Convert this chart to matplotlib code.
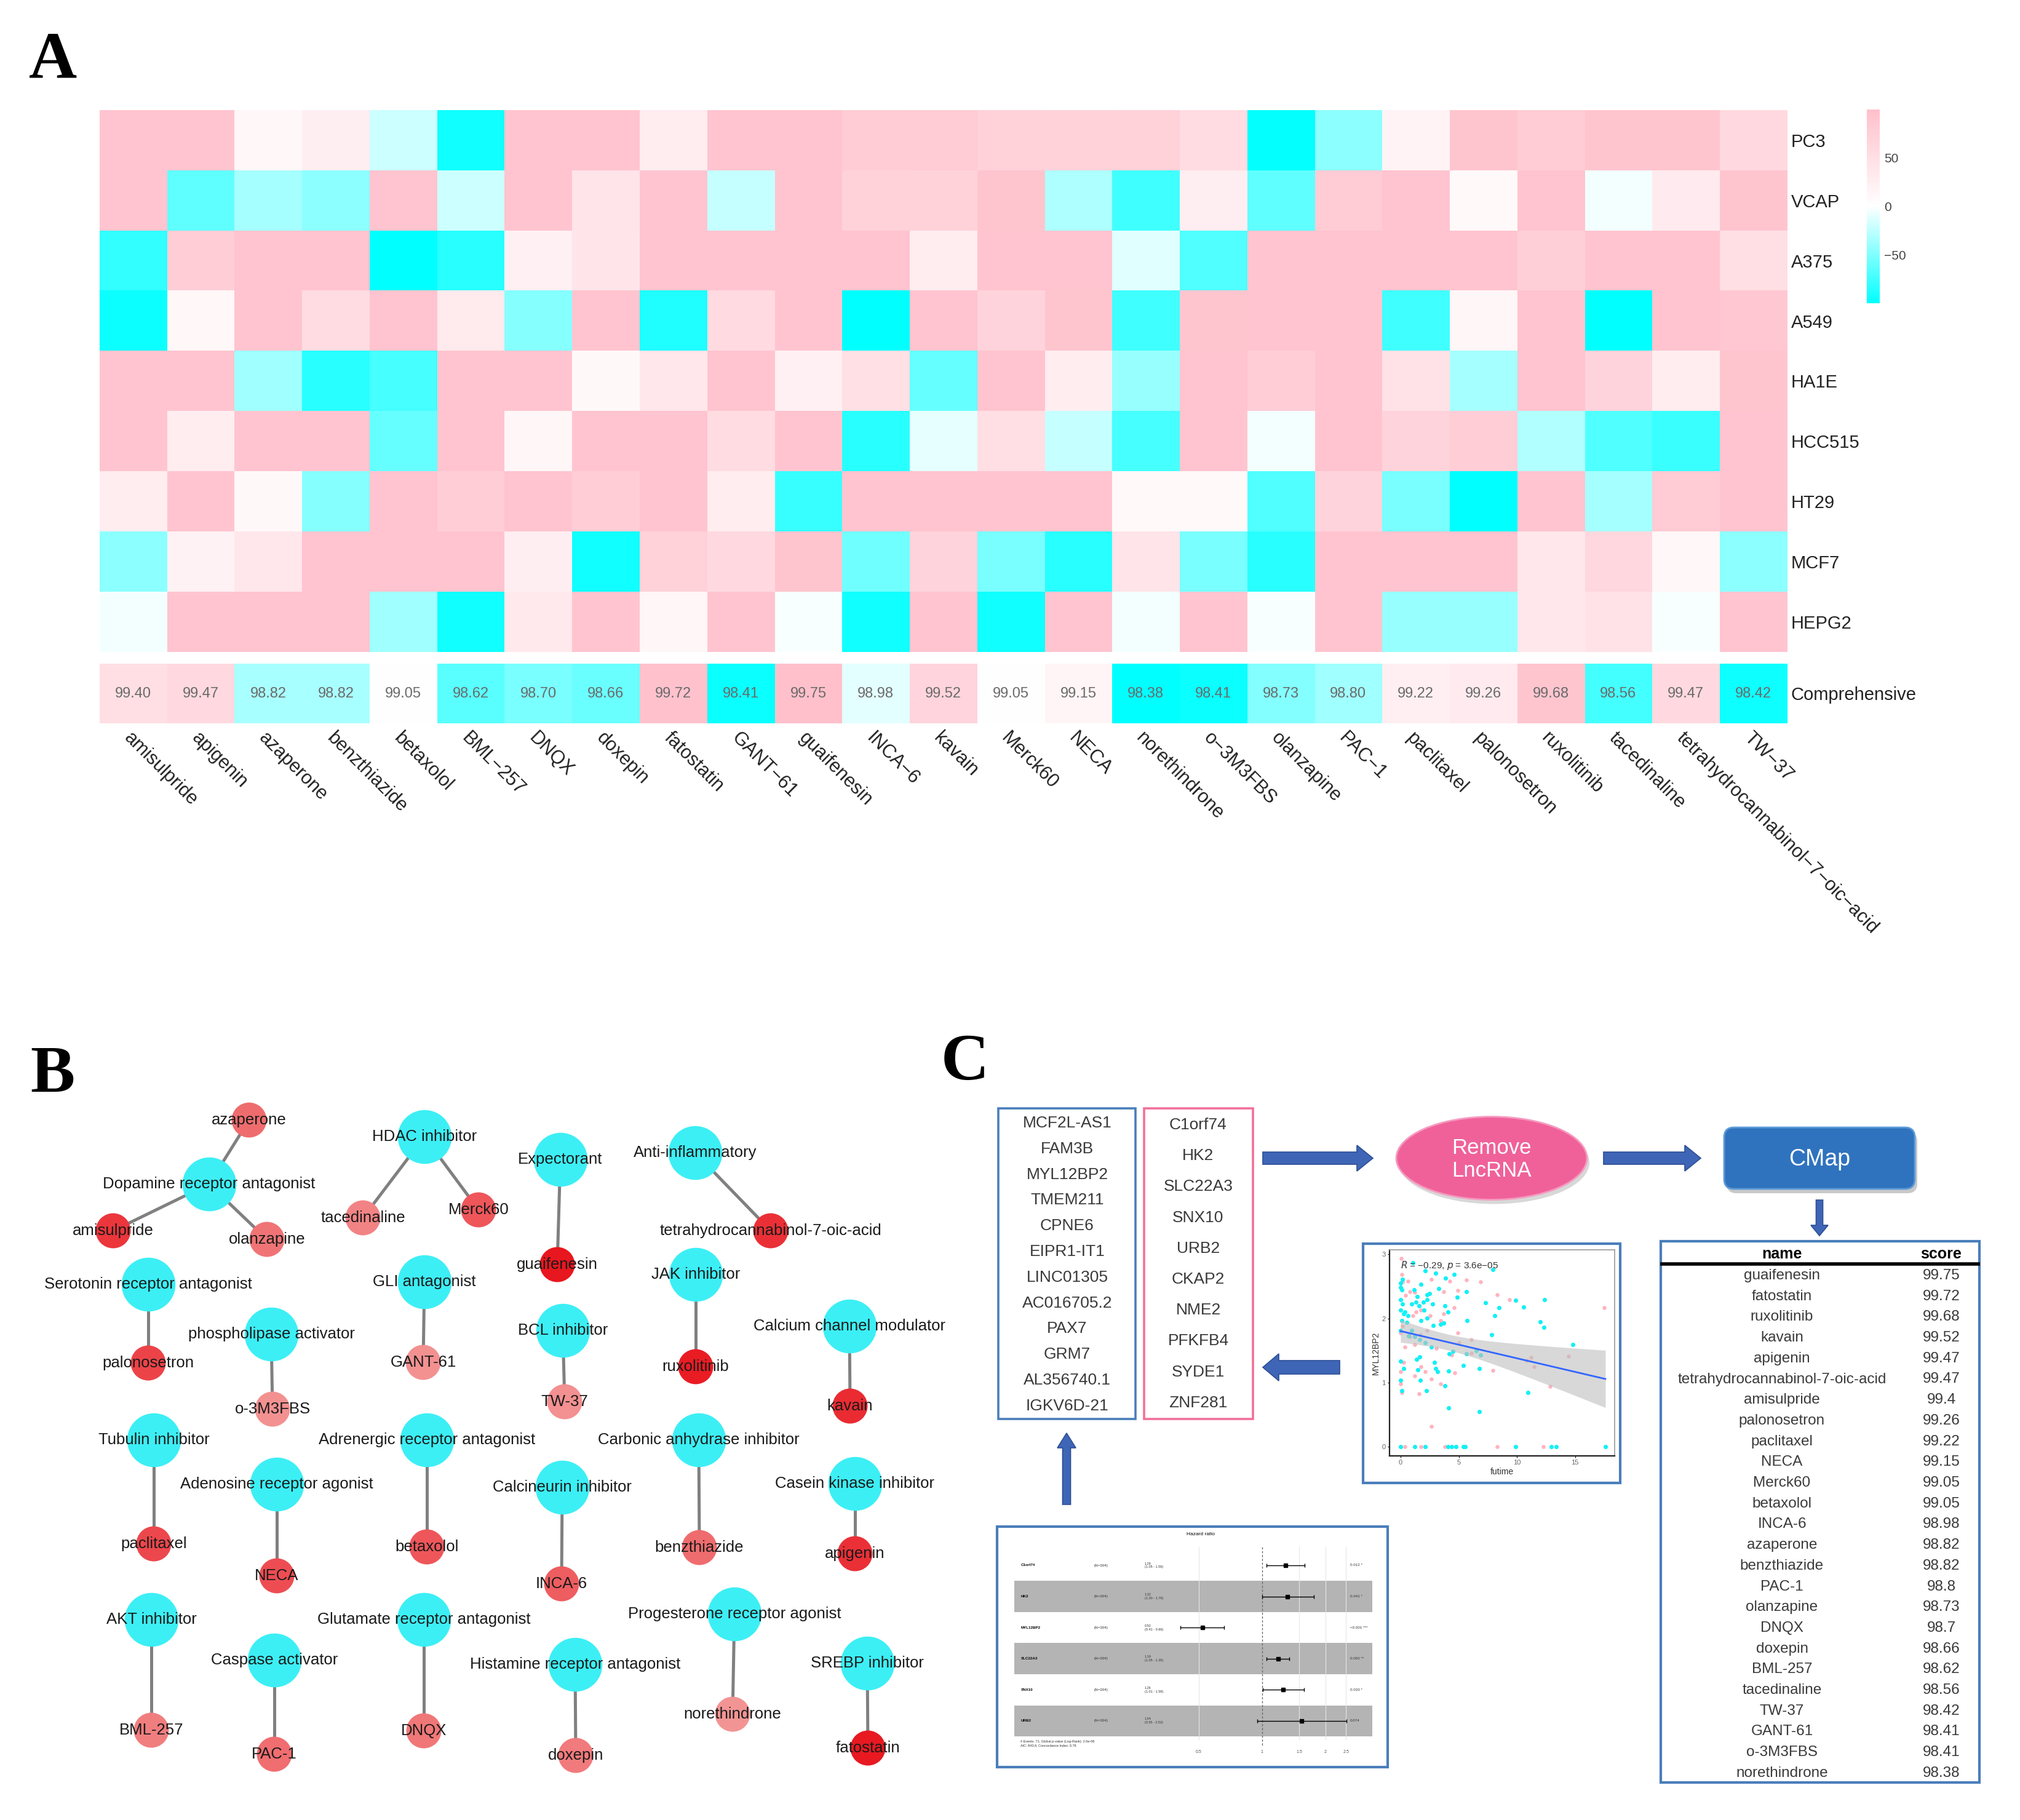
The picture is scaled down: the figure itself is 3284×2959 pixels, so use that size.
import numpy as np
import matplotlib
matplotlib.use('Agg')
import matplotlib.pyplot as plt
from matplotlib.colors import LinearSegmentedColormap, TwoSlopeNorm
from matplotlib.patches import Rectangle, Ellipse, FancyBboxPatch, FancyArrow

plt.rcParams['font.family'] = ['Liberation Sans', 'DejaVu Sans']

# ---------------- DATA ----------------
drugs = ['amisulpride', 'apigenin', 'azaperone', 'benzthiazide', 'betaxolol', 'BML-257', 'DNQX',
         'doxepin', 'fatostatin', 'GANT-61', 'guaifenesin', 'INCA-6', 'kavain', 'Merck60', 'NECA',
         'norethindrone', 'o-3M3FBS', 'olanzapine', 'PAC-1', 'paclitaxel', 'palonosetron',
         'ruxolitinib', 'tacedinaline', 'tetrahydrocannabinol-7-oic-acid', 'TW-37']
cell_lines = ['PC3', 'VCAP', 'A375', 'A549', 'HA1E', 'HCC515', 'HT29', 'MCF7', 'HEPG2']

pc3    = [92, 92, 12, 25, -20, -93, 92, 92, 28, 92, 92, 80, 82, 72, 70, 72, 55, -98, -45, 18, 90, 82, 90, 90, 60]
vcap   = [92, -62, -35, -45, 92, -20, 92, 42, 92, -22, 92, 70, 70, 90, -32, -75, 25, -62, 82, 92, 8, 92, -4, 30, 90]
a375   = [-80, 78, 92, 92, -100, -84, 22, 40, 92, 92, 92, 92, 28, 92, 92, -12, -68, 92, 92, 92, 92, 75, 92, 92, 50]
a549   = [-95, 12, 92, 55, 92, 32, -47, 92, -87, 58, 92, -100, 92, 68, 90, -75, 90, 92, 92, -75, 14, 92, -100, 92, 88]
ha1e   = [92, 92, -37, -84, -72, 92, 92, 10, 38, 92, 22, 48, -60, 92, 28, -40, 92, 78, 92, 45, -35, 92, 68, 28, 90]
hcc515 = [92, 28, 92, 92, -60, 92, 14, 92, 92, 55, 92, -84, -10, 50, -22, -72, 92, -4, 92, 68, 78, -30, -68, -77, 92]
ht29   = [28, 92, 10, -47, 92, 78, 92, 78, 92, 28, -78, 92, 92, 92, 92, 8, 8, -68, 68, -52, -100, 92, -35, 82, 92]
mcf7   = [-45, 20, 38, 92, 92, 92, 25, -93, 72, 60, 90, -56, 68, -52, -84, 42, -52, -84, 92, 92, 92, 38, 62, 12, -45]
hepg2  = [-4, 92, 92, 92, -37, -93, 35, 92, 14, 92, -3, -93, 92, -93, 92, -4, 92, -3, 92, -40, -40, 38, 45, -3, 92]

comprehensive = [99.40, 99.47, 98.82, 98.82, 99.05, 98.62, 98.70, 98.66, 99.72, 98.41, 99.75, 98.98,
                 99.52, 99.05, 99.15, 98.38, 98.41, 98.73, 98.80, 99.22, 99.26, 99.68, 98.56, 99.47, 98.42]

# network: mechanism of action -> drugs
edges = [('Dopamine receptor antagonist', 'azaperone'), ('Dopamine receptor antagonist', 'amisulpride'),
         ('Dopamine receptor antagonist', 'olanzapine'), ('HDAC inhibitor', 'tacedinaline'),
         ('HDAC inhibitor', 'Merck60'), ('Expectorant', 'guaifenesin'),
         ('Anti-inflammatory', 'tetrahydrocannabinol-7-oic-acid'), ('Serotonin receptor antagonist', 'palonosetron'),
         ('phospholipase activator', 'o-3M3FBS'), ('GLI antagonist', 'GANT-61'), ('BCL inhibitor', 'TW-37'),
         ('JAK inhibitor', 'ruxolitinib'), ('Calcium channel modulator', 'kavain'),
         ('Tubulin inhibitor', 'paclitaxel'), ('Adenosine receptor agonist', 'NECA'),
         ('Adrenergic receptor antagonist', 'betaxolol'), ('Calcineurin inhibitor', 'INCA-6'),
         ('Carbonic anhydrase inhibitor', 'benzthiazide'), ('Casein kinase inhibitor', 'apigenin'),
         ('AKT inhibitor', 'BML-257'), ('Caspase activator', 'PAC-1'),
         ('Glutamate receptor antagonist', 'DNQX'), ('Histamine receptor antagonist', 'doxepin'),
         ('Progesterone receptor agonist', 'norethindrone'), ('SREBP inhibitor', 'fatostatin')]

lncrna_genes = ['MCF2L-AS1', 'FAM3B', 'MYL12BP2', 'TMEM211', 'CPNE6', 'EIPR1-IT1', 'LINC01305',
                'AC016705.2', 'PAX7', 'GRM7', 'AL356740.1', 'IGKV6D-21']
mrna_genes = ['C1orf74', 'HK2', 'SLC22A3', 'SNX10', 'URB2', 'CKAP2', 'NME2', 'PFKFB4', 'SYDE1', 'ZNF281']

# scatter (futime vs MYL12BP2), two groups
cyan_pts = [(0, 0), (1.23, 0), (2.12, 0), (4.06, 0), (4.41, 0), (4.76, 0), (5.38, 0), (5.56, 0), (9.88, 0),
            (12.96, 0), (13.4, 0), (17.6, 0), (1.06, 2.87), (2.12, 2.74), (4.59, 2.69), (3.88, 2.63),
            (7.94, 2.76), (5.64, 2.42), (4.85, 2.33), (7.32, 2.25), (9.88, 2.28), (12.35, 2.29), (10.58, 2.18),
            (8.47, 2.17), (8.08, 2.04), (3.79, 2.2), (4.06, 2.1), (2.73, 2.23), (3.26, 2.47), (5.73, 1.97),
            (11.99, 1.95), (12.31, 1.86), (7.85, 1.75), (14.78, 1.59), (6.88, 1.43), (6.53, 1.5), (5.64, 1.45),
            (4.5, 1.49), (4.2, 1.45), (5.38, 1.27), (6.79, 1.22), (4.14, 1.18), (3.79, 0.95), (2.2, 0.88),
            (0.09, 0.88), (0, 1.04), (0.26, 1.22), (0, 1.34), (1.68, 1.04), (1.5, 1.2), (1.38, 1.36),
            (1.62, 1.4), (2.91, 1.32), (3.0, 1.22), (3.17, 1.17), (2.65, 1.56), (2.12, 1.62), (1.62, 1.67),
            (1.23, 1.72), (0.71, 1.73), (0.97, 1.81), (0.53, 1.94), (0, 1.81), (0.26, 2.07), (0, 2.13),
            (0.18, 2.23), (0, 2.29), (0.09, 2.45), (0, 2.55), (0.18, 2.61), (0, 2.49), (1.15, 2.45),
            (1.41, 2.34), (1.76, 2.53), (1.59, 2.2), (2.03, 2.13), (2.29, 2.29), (1.94, 2.26), (2.47, 2.39),
            (1.76, 1.97), (2.29, 2.01), (2.82, 1.89), (3.44, 1.91), (3.7, 1.93), (4.14, 0.61), (6.79, 0.55),
            (10.93, 0.85), (3.0, 2.71), (2.29, 2.37), (1.32, 2.26), (0.97, 2.23), (0.35, 2.1), (0.62, 2.04),
            (0.09, 1.97)]
pink_pts = [(0.35, 0), (1.76, 0), (3.79, 0), (8.29, 0), (12.26, 0), (0.04, 2.94), (0.09, 2.69), (0.18, 2.57),
            (0.62, 2.58), (0.79, 2.42), (0.44, 2.36), (1.23, 2.41), (1.76, 2.13), (1.32, 2.1), (1.06, 2.04),
            (0.18, 1.88), (0, 1.78), (0.35, 1.56), (0.79, 1.72), (1.23, 1.59), (1.68, 1.75), (2.29, 1.81),
            (2.56, 2.04), (2.65, 2.61), (4.23, 2.58), (4.94, 2.44), (5.64, 2.6), (6.88, 2.57), (8.29, 2.37),
            (9.35, 2.29), (4.59, 2.17), (3.7, 2.42), (3.7, 2.07), (3.44, 1.97), (4.94, 1.78), (5.03, 1.62),
            (6.08, 1.67), (6.08, 1.46), (4.41, 1.43), (3.09, 1.54), (0.26, 1.32), (0, 1.17), (0, 0.98),
            (0.09, 0.85), (1.23, 1.11), (1.76, 1.25), (2.12, 1.17), (2.65, 1.06), (3.44, 0.98), (1.59, 0.83),
            (2.65, 0.32), (4.67, 1.15), (7.94, 1.19), (10.85, 1.35), (11.46, 1.25), (14.46, 1.41),
            (12.87, 0.94), (17.5, 2.17), (11.2, 1.39)]

# forest plot (Cox model)
forest_genes = ['C1orf74', 'HK2', 'MYL12BP2', 'SLC22A3', 'SNX10', 'URB2']
forest_hr = [1.29, 1.32, 0.52, 1.19, 1.26, 1.54]
forest_lo = [1.05, 1.00, 0.41, 1.05, 1.01, 0.95]
forest_hi = [1.59, 1.76, 0.66, 1.35, 1.58, 2.52]
forest_p = ['0.012 *', '0.041 *', '<0.001 ***', '0.002 **', '0.033 *', '0.074']
forest_ticks = [0.5, 1, 1.5, 2, 2.5]

# ---------------- FIGURE ----------------
W, H = 3284, 2959
DPI = 100
fig = plt.figure(figsize=(W / DPI, H / DPI), dpi=DPI)
fig.patch.set_facecolor('white')


def axes_px(x0, y0, x1, y1, **kw):
    return fig.add_axes([x0 / W, 1 - y1 / H, (x1 - x0) / W, (y1 - y0) / H], **kw)


# background drawing layer (pixel coordinates)
bg = fig.add_axes([0, 0, 1, 1])
bg.set_xlim(0, W)
bg.set_ylim(H, 0)
bg.axis('off')

serif = ['Liberation Serif', 'DejaVu Serif']
for lab, x, y in [('A', 47, 126), ('B', 49, 1775), ('C', 1530, 1755)]:
    bg.text(x, y, lab, fontsize=78, fontweight='bold', family=serif, ha='left', va='baseline')

# ---------------- PANEL A: heatmap ----------------
cmap = LinearSegmentedColormap.from_list('cyan_pink', ['#00FFFF', '#FFFFFF', '#FFC0CB'])
heat = np.array([pc3, vcap, a375, a549, ha1e, hcc515, ht29, mcf7, hepg2], dtype=float)

ax_h = axes_px(162, 179, 2905, 1060)
im = ax_h.imshow(heat, cmap=cmap, vmin=-100, vmax=100, aspect='auto', interpolation='nearest')
ax_h.set_xticks([])
ax_h.yaxis.tick_right()
ax_h.set_yticks(range(len(cell_lines)))
ax_h.set_yticklabels(cell_lines, fontsize=21, color='#222222')
ax_h.tick_params(length=0, pad=5)
for s in ax_h.spines.values():
    s.set_visible(False)

ax_c = axes_px(162, 1079, 2905, 1176)
norm_c = TwoSlopeNorm(vcenter=99.05, vmin=min(comprehensive), vmax=max(comprehensive))
ax_c.imshow(np.array([comprehensive]), cmap=cmap, norm=norm_c, aspect='auto', interpolation='nearest')
for i, v in enumerate(comprehensive):
    ax_c.text(i, 0, f'{v:.2f}', ha='center', va='center', fontsize=17, color='#6a6a6a')
ax_c.yaxis.tick_right()
ax_c.set_yticks([0])
ax_c.set_yticklabels(['Comprehensive'], fontsize=21, color='#222222')
ax_c.set_xticks(range(len(drugs)))
ax_c.set_xticklabels([d.replace('-', '\u2212') for d in drugs], rotation=-45, ha='left', va='top',
                     rotation_mode='anchor', fontsize=22, color='#222222')
ax_c.tick_params(length=0)
ax_c.tick_params(axis='x', pad=6)
ax_c.tick_params(axis='y', pad=5)
for s in ax_c.spines.values():
    s.set_visible(False)

cax = axes_px(3035, 178, 3056, 493)
cb = fig.colorbar(im, cax=cax, ticks=[-50, 0, 50])
cb.outline.set_visible(False)
cb.ax.set_yticklabels(['\u221250', '0', '50'])
cb.ax.tick_params(length=0, labelsize=15, labelcolor='#444444', pad=5)

# ---------------- PANEL B: network ----------------
node_pos = {
    'Dopamine receptor antagonist': (340, 1925), 'azaperone': (405, 1821), 'amisulpride': (184, 2001),
    'olanzapine': (434, 2015), 'HDAC inhibitor': (690, 1848), 'tacedinaline': (590, 1980),
    'Merck60': (778, 1967), 'Expectorant': (911, 1885), 'guaifenesin': (906, 2056),
    'Anti-inflammatory': (1130, 1874), 'tetrahydrocannabinol-7-oic-acid': (1253, 2001),
    'Serotonin receptor antagonist': (241, 2088), 'palonosetron': (241, 2216),
    'phospholipase activator': (441, 2169), 'o-3M3FBS': (443, 2291),
    'GLI antagonist': (690, 2084), 'GANT-61': (688, 2215), 'BCL inhibitor': (915, 2163), 'TW-37': (918, 2279),
    'JAK inhibitor': (1131, 2072), 'ruxolitinib': (1131, 2222),
    'Calcium channel modulator': (1381, 2156), 'kavain': (1382, 2286),
    'Tubulin inhibitor': (250, 2341), 'paclitaxel': (250, 2510),
    'Adenosine receptor agonist': (450, 2413), 'NECA': (450, 2562),
    'Adrenergic receptor antagonist': (694, 2341), 'betaxolol': (694, 2515),
    'Calcineurin inhibitor': (914, 2418), 'INCA-6': (913, 2575),
    'Carbonic anhydrase inhibitor': (1136, 2341), 'benzthiazide': (1137, 2516),
    'Casein kinase inhibitor': (1390, 2412), 'apigenin': (1390, 2526),
    'AKT inhibitor': (246, 2633), 'BML-257': (246, 2813),
    'Caspase activator': (446, 2699), 'PAC-1': (446, 2852),
    'Glutamate receptor antagonist': (689, 2633), 'DNQX': (689, 2814),
    'Histamine receptor antagonist': (935, 2706), 'doxepin': (936, 2854),
    'Progesterone receptor agonist': (1194, 2624), 'norethindrone': (1191, 2787),
    'SREBP inhibitor': (1410, 2704), 'fatostatin': (1411, 2842)}

score_of = dict(zip(drugs, comprehensive))
lo_s, hi_s = min(comprehensive), max(comprehensive)
light_red = np.array([243, 148, 148]) / 255
dark_red = np.array([232, 22, 30]) / 255


def drug_color(d):
    t = (score_of[d] - lo_s) / (hi_s - lo_s)
    return tuple(light_red * (1 - t) + dark_red * t)


for moa, drug in edges:
    (x1, y1), (x2, y2) = node_pos[moa], node_pos[drug]
    bg.plot([x1, x2], [y1, y2], color='#808080', lw=3.6, zorder=2, solid_capstyle='butt')

moas = list(dict.fromkeys(m for m, _ in edges))
bg.scatter([node_pos[m][0] for m in moas], [node_pos[m][1] for m in moas], s=63 ** 2,
           color='#3CEFF5', linewidths=0, zorder=3)
drug_nodes = [d for _, d in edges]
bg.scatter([node_pos[d][0] for d in drug_nodes], [node_pos[d][1] for d in drug_nodes], s=41 ** 2,
           color=[drug_color(d) for d in drug_nodes], linewidths=0, zorder=3)
for name in moas + drug_nodes:
    x, y = node_pos[name]
    bg.text(x, y, name, ha='center', va='center', fontsize=18.5, color='#1a1a1a', zorder=4)

# ---------------- PANEL C: workflow ----------------
blue_edge = '#4A7EBB'
bg.add_patch(Rectangle((1623, 1802), 223, 505, fill=False, ec=blue_edge, lw=2.6, zorder=2))
bg.add_patch(Rectangle((1860, 1802), 177, 505, fill=False, ec='#F2709A', lw=2.6, zorder=2))
for i, g in enumerate(lncrna_genes):
    bg.text(1735, 1826 + i * 41.8, g, ha='center', va='center', fontsize=19, color='#3a3a3a')
for i, g in enumerate(mrna_genes):
    bg.text(1948, 1829 + i * 50.2, g, ha='center', va='center', fontsize=19, color='#3a3a3a')

arrow_kw = dict(length_includes_head=True, fc='#3F66B6', ec='#2C4E95', lw=1.2, zorder=3)
bg.add_patch(FancyArrow(2053, 1883, 179, 0, width=20, head_width=42, head_length=26, **arrow_kw))
bg.add_patch(FancyArrow(2607, 1883, 158, 0, width=20, head_width=42, head_length=26, **arrow_kw))
bg.add_patch(FancyArrow(2958, 1951, 0, 58, width=11, head_width=28, head_length=17, **arrow_kw))
bg.add_patch(FancyArrow(2178, 2223, -125, 0, width=22, head_width=44, head_length=26, **arrow_kw))
bg.add_patch(FancyArrow(1734, 2446, 0, -116, width=13, head_width=30, head_length=24, **arrow_kw))

bg.add_patch(Ellipse((2429, 1890), 310, 135, fc='#D8D8D8', ec='none', zorder=2))
bg.add_patch(Ellipse((2425, 1883), 310, 135, fc='#F0619A', ec='#F59BC0', lw=2, zorder=3))
bg.text(2425, 1885, 'Remove\nLncRNA', ha='center', va='center', fontsize=25, color='white',
        linespacing=1.15, zorder=4)

bg.add_patch(FancyBboxPatch((2807, 1840), 310, 100, boxstyle='round,pad=0,rounding_size=16',
                            fc='#C9C9C9', ec='none', zorder=2))
bg.add_patch(FancyBboxPatch((2803, 1833), 310, 100, boxstyle='round,pad=0,rounding_size=16',
                            fc='#2F73BE', ec='#5E9BD8', lw=2, zorder=3))
bg.text(2958, 1885, 'CMap', ha='center', va='center', fontsize=27, color='white', zorder=4)

# ranking table derived from comprehensive scores
bg.add_patch(Rectangle((2700, 2018), 518, 880, fill=False, ec=blue_edge, lw=3, zorder=2))
bg.text(2897, 2039, 'name', ha='center', va='center', fontsize=18, fontweight='bold')
bg.text(3156, 2039, 'score', ha='center', va='center', fontsize=18, fontweight='bold')
bg.plot([2702, 3216], [2055, 2055], color='black', lw=4, zorder=3)
ranking = sorted(zip(drugs, comprehensive), key=lambda t: (-t[1], t[0]))
for i, (d, v) in enumerate(ranking):
    y = 2074 + i * 33.7
    bg.text(2897, y, d, ha='center', va='center', fontsize=17.5, color='#3a3a3a')
    bg.text(3156, y, f'{v:g}', ha='center', va='center', fontsize=17.5, color='#3a3a3a')

# scatter plot
bg.add_patch(Rectangle((2216, 2022), 418, 389, fill=False, ec=blue_edge, lw=3, zorder=2))
ax_s = axes_px(2259, 2032, 2625, 2367)
cp = np.array(cyan_pts, dtype=float)
pp = np.array(pink_pts, dtype=float)
ax_s.scatter(pp[:, 0], pp[:, 1], s=22, color='#FFB3C0', linewidths=0, zorder=2)
ax_s.scatter(cp[:, 0], cp[:, 1], s=26, color='#14F0F5', linewidths=0, zorder=2)
allp = np.vstack([cp, pp])
xv, yv = allp[:, 0], allp[:, 1]
slope, icpt = np.polyfit(xv, yv, 1)
n = len(xv)
resid = yv - (slope * xv + icpt)
s_err = np.sqrt(np.sum(resid ** 2) / (n - 2))
xg = np.linspace(xv.min(), xv.max(), 100)
se = s_err * np.sqrt(1 / n + (xg - xv.mean()) ** 2 / np.sum((xv - xv.mean()) ** 2))
yg = slope * xg + icpt
ax_s.fill_between(xg, yg - 1.97 * se, yg + 1.97 * se, color='#BEBEBE', alpha=0.6, lw=0, zorder=3)
ax_s.plot(xg, yg, color='#3366FF', lw=2, zorder=4)
ax_s.text(0, 2.83, '$R$ = \u22120.29, $p$ = 3.6e\u221205', fontsize=11, color='#333333', va='center')
ax_s.set_xlim(-0.95, 18.4)
ax_s.set_ylim(-0.14, 3.07)
ax_s.set_xticks([0, 5, 10, 15])
ax_s.set_yticks([0, 1, 2, 3])
ax_s.tick_params(labelsize=8, labelcolor='#666666', length=2.5, width=0.8, pad=2)
ax_s.set_xlabel('futime', fontsize=10, color='#333333', labelpad=2)
ax_s.set_ylabel('MYL12BP2', fontsize=10, color='#333333', labelpad=2)
for side in ['left', 'bottom']:
    ax_s.spines[side].set_color('#222222')
    ax_s.spines[side].set_linewidth(1.6)
for side in ['top', 'right']:
    ax_s.spines[side].set_color('#9a9a9a')
    ax_s.spines[side].set_linewidth(1.2)

# forest plot
bg.add_patch(Rectangle((1621, 2482), 635, 391, fill=False, ec=blue_edge, lw=3, zorder=2))
ax_f = axes_px(1649, 2500, 2231, 2860)
ax_f.set_xlim(-2.71, 1.205)
ax_f.set_ylim(6.23, -0.89)
ax_f.axis('off')
for i in range(len(forest_genes)):
    if i % 2 == 1:
        ax_f.axhspan(i - 0.5, i + 0.5, color='#B4B4B4', lw=0, zorder=0)
for t in forest_ticks:
    if t != 1:
        ax_f.plot([np.log(t)] * 2, [-0.6, 5.6], color='#E6E6E6', lw=0.8, zorder=1)
    ax_f.text(np.log(t), 6.0, f'{t:g}', ha='center', va='center', fontsize=5, color='#555555')
ax_f.plot([0, 0], [-0.6, 5.8], color='#666666', lw=0.9, ls=(0, (3, 2)), zorder=2)
lhr = np.log(forest_hr)
ax_f.errorbar(lhr, range(len(forest_hr)),
              xerr=[lhr - np.log(forest_lo), np.log(forest_hi) - lhr],
              fmt='s', color='black', ms=5, capsize=2.5, elinewidth=1, zorder=3)
for i, g in enumerate(forest_genes):
    ax_f.text(-2.64, i, g, fontsize=4.5, fontweight='bold', va='center', ha='left')
    ax_f.text(-1.84, i, '(N=304)', fontsize=4.5, va='center', ha='left', color='#333333')
    ax_f.text(-1.285, i, f'{forest_hr[i]:.2f}\n({forest_lo[i]:.2f} - {forest_hi[i]:.2f})',
              fontsize=4, va='center', ha='left', color='#333333')
    ax_f.text(0.96, i, forest_p[i], fontsize=4.5, va='center', ha='left', color='#333333')
ax_f.text(-0.675, -1.0, 'Hazard ratio', fontsize=6, ha='center', va='center', clip_on=False)
ax_f.text(-2.64, 5.62, '# Events: 71; Global p-value (Log-Rank): 2.0e-08\nAIC: 843.6; Concordance Index: 0.76',
          fontsize=4, ha='left', va='top', color='#333333')

fig.savefig('out.png', dpi=DPI, facecolor='white')
